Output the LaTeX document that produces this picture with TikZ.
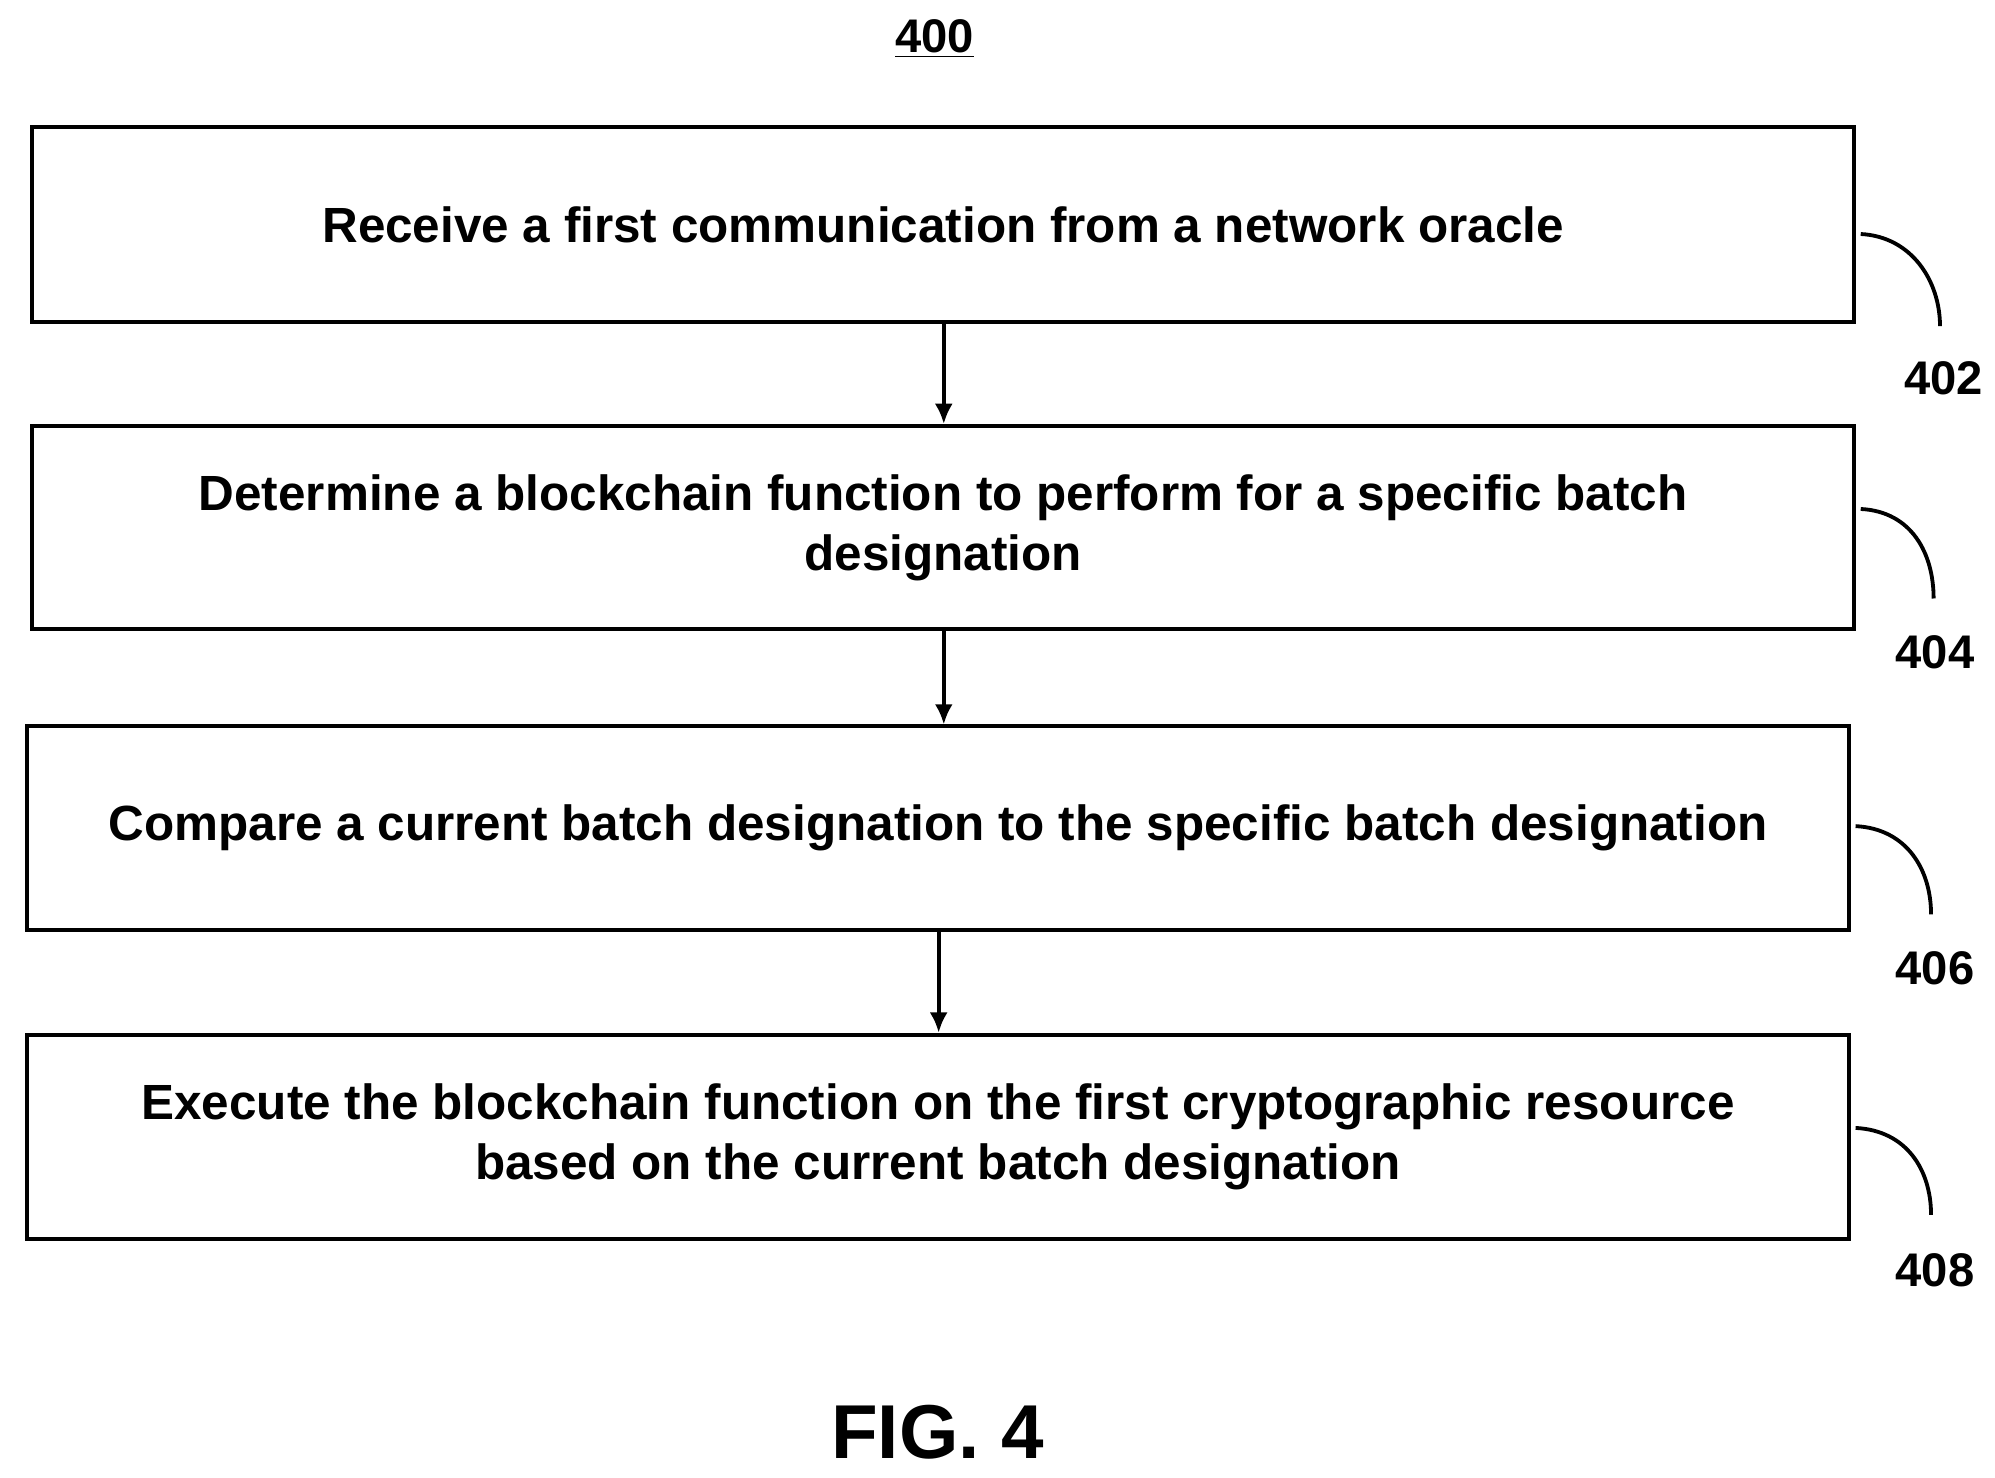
\documentclass[tikz,border=0pt]{standalone}
\usepackage{fontspec}
\setmainfont{Liberation Sans}
\usetikzlibrary{positioning,arrows.meta}
\tikzset{
  stepbox/.style={draw, line width=1.7pt, minimum width=28.5cm, align=center, font=\bfseries\fontsize{22}{26.7}\selectfont},
  flow/.style={line width=1.7pt, -{Latex[length=9pt,width=8pt]}},
  lead/.style={line width=1.7pt},
  ref/.style={font=\bfseries\fontsize{21}{25}\selectfont}
}
\begin{document}
\begin{tikzpicture}[x=0.02cm,y=-0.02cm]
  \useasboundingbox (0,0) rectangle (1560,1155);
  \node[font=\bfseries\fontsize{21}{25}\selectfont] (title) at (731,30) {\underline{400}};

  \node[stepbox, minimum height=3.06cm] (s402) at (737.5,175.5) {Receive a first communication from a network oracle};
  \node[stepbox, minimum height=3.18cm] (s404) at (737.5,412.5) {Determine a blockchain function to perform for a specific batch\\designation};
  \node[stepbox, minimum height=3.18cm] (s406) at (733.5,647.5) {Compare a current batch designation to the specific batch designation};
  \node[stepbox, minimum height=3.2cm] (s408) at (733.5,889) {Execute the blockchain function on the first cryptographic resource\\based on the current batch designation};

  \draw[flow] (s402.south -| 738,0) -- (s404.north -| 738,0);
  \draw[flow] (s404.south -| 738,0) -- (s406.north -| 738,0);
  \draw[flow] (s406.south -| 734,0) -- (s408.north -| 734,0);

  % reference numerals
  \node[ref] (n402) at (1520,296) {402};
  \node[ref] (n404) at (1513,510) {404};
  \node[ref] (n406) at (1513,757) {406};
  \node[ref] (n408) at (1513,993) {408};
  \draw[lead] (1455,183) .. controls (1495,185) and (1517,220) .. (1517,255);
  \draw[lead] (1455,398) .. controls (1495,400) and (1512,433) .. (1512,468);
  \draw[lead] (1451,646) .. controls (1491,648) and (1510,680) .. (1510,715);
  \draw[lead] (1451,882) .. controls (1491,884) and (1510,915) .. (1510,950);

  \node[font=\bfseries\fontsize{34}{40}\selectfont] (fig) at (733,1120) {FIG. 4};
\end{tikzpicture}
\end{document}
